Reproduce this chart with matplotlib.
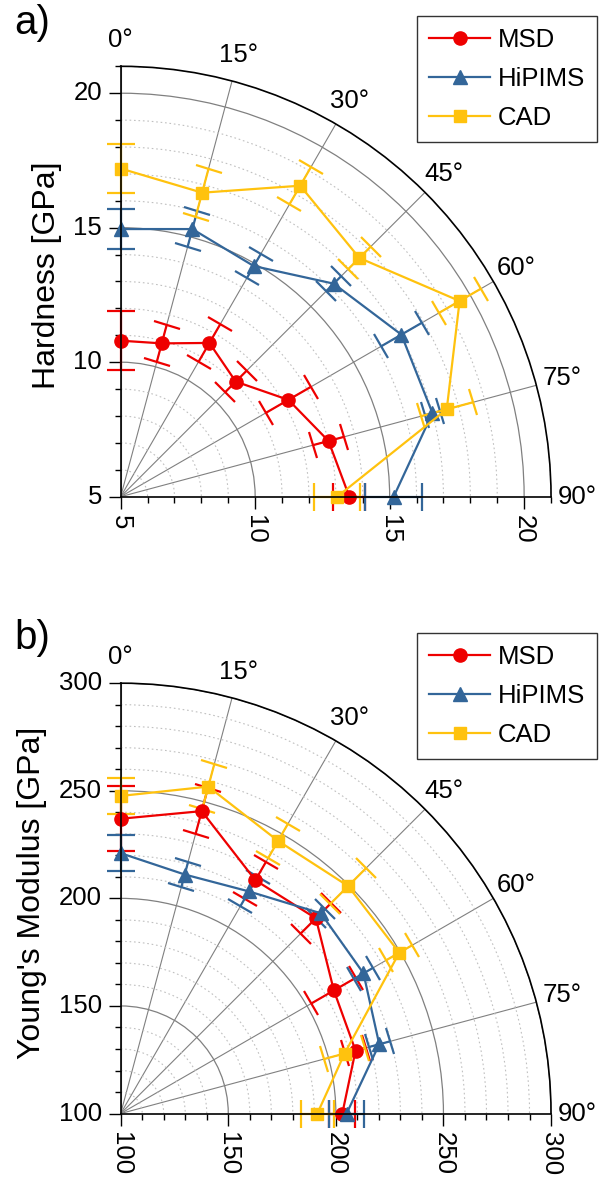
import numpy as np
import matplotlib
matplotlib.use('Agg')
import matplotlib.pyplot as plt
from matplotlib.ticker import MultipleLocator

plt.rcParams['font.family'] = ['Liberation Sans', 'DejaVu Sans']

# angle of measurement [deg]
angles = [0, 15, 30, 45, 60, 75, 90]

# hardness [GPa]
msd_h = [10.8, 10.9, 11.6, 11.05, 12.2, 13.0, 13.5]
msd_h_err = [1.1, 0.7, 0.8, 0.57, 0.95, 0.58, 0.6]
hip_h = [14.95, 15.3, 14.9, 16.2, 17.05, 17.0, 15.15]
hip_h_err = [0.75, 0.7, 0.53, 0.4, 0.88, 0.3, 1.06]
cad_h = [17.2, 16.7, 18.35, 17.55, 19.55, 17.55, 13.05]
cad_h_err = [0.9, 0.93, 0.8, 0.6, 0.9, 1.0, 0.85]

# young's modulus [GPa]
msd_e = [237, 245.5, 225.2, 228.3, 214.4, 213, 203]
msd_e_err = [15, 11, 10, 10, 12, 5, 6]
hip_e = [221, 215, 219.2, 231.6, 230.3, 224.4, 205]
hip_e_err = [8.3, 6, 8, 3, 5, 5, 8]
cad_e = [247.6, 257.3, 246.3, 249.5, 249.5, 207.7, 191.4]
cad_e_err = [8.3, 10.7, 9.2, 12, 7, 9.7, 7.7]

labels = ['MSD', 'HiPIMS', 'CAD']
colors = ['#EE0000', '#336699', '#FFC20E']
markers = ['o', '^', 's']
msizes = [9.5, 9.5, 8.5]

W, H = 607, 1184


def setup(ax, rmin, rmax, major, minor):
    ax.set_theta_zero_location('N')
    ax.set_theta_direction(-1)
    ax.set_thetamin(0)
    ax.set_thetamax(90)
    ax.set_rlim(rmin, rmax)
    ax.set_rticks(np.arange(rmin, rmax + 0.01, major))
    ax.yaxis.set_minor_locator(MultipleLocator(minor))
    ax.set_thetagrids(angles)
    ax.yaxis.grid(True, which='major', color='#808080', lw=0.9)
    ax.yaxis.grid(True, which='minor', color='#c0c0c0', lw=0.8, ls=(0, (1.5, 2.5)))
    ax.xaxis.grid(True, color='#808080', lw=0.8)
    # radial ticks on both straight edges, labels turned with the edge
    ax.tick_params(axis='y', which='both', left=True, right=True,
                   labelleft=True, labelright=True, direction='out',
                   labelsize=18.5, width=1, color='black', labelrotation='auto')
    ax.tick_params(axis='y', which='major', length=8.5, pad=5)
    ax.tick_params(axis='y', which='minor', length=4.5)
    ax.tick_params(axis='x', direction='in', length=7, width=1, labelsize=18.5, pad=12)
    for s in ax.spines.values():
        s.set_color('black')
        s.set_linewidth(1.2)


def draw(ax, series):
    th = np.deg2rad(angles)
    handles = []
    for (vals, errs), lab, c, m, ms in zip(series, labels, colors, markers, msizes):
        cont = ax.errorbar(th, vals, yerr=errs, color=c, marker=m, ms=ms, lw=1.6,
                           elinewidth=1.6, capsize=10, capthick=1.6, label=lab,
                           clip_on=False)
        handles.append(cont[0])
    return handles


fig = plt.figure(figsize=(W / 100, H / 100), dpi=100)
ax1 = fig.add_axes([0.1988, 0.5805, 0.709, 0.3635], projection='polar')
ax2 = fig.add_axes([0.1988, 0.0591, 0.709, 0.3643], projection='polar')

setup(ax1, 5, 21, 5, 1)
h1 = draw(ax1, [(msd_h, msd_h_err), (hip_h, hip_h_err), (cad_h, cad_h_err)])
setup(ax2, 100, 300, 50, 10)
h2 = draw(ax2, [(msd_e, msd_e_err), (hip_e, hip_e_err), (cad_e, cad_e_err)])

fig.text(47 / W, 1 - 275 / H, 'Hardness [GPa]', rotation=90, ha='center', va='center', fontsize=23)
fig.text(32 / W, 1 - 893 / H, "Young's Modulus [GPa]", rotation=90, ha='center', va='center', fontsize=23)
fig.text(14 / W, 1 - 4 / H, 'a)', ha='left', va='top', fontsize=29)
fig.text(14 / W, 1 - 619 / H, 'b)', ha='left', va='top', fontsize=29)

for hs, top in [(h1, 1 - 16 / H), (h2, 1 - 633 / H)]:
    leg = fig.legend(hs, labels, loc='upper right', bbox_to_anchor=(597 / W, top),
                     fontsize=18.5, frameon=True, fancybox=False, edgecolor='black',
                     handlelength=2.4, borderpad=0.45, labelspacing=0.6,
                     handletextpad=0.3, borderaxespad=0)
    leg.get_frame().set_linewidth(1.0)

fig.savefig('out.png', dpi=100)
